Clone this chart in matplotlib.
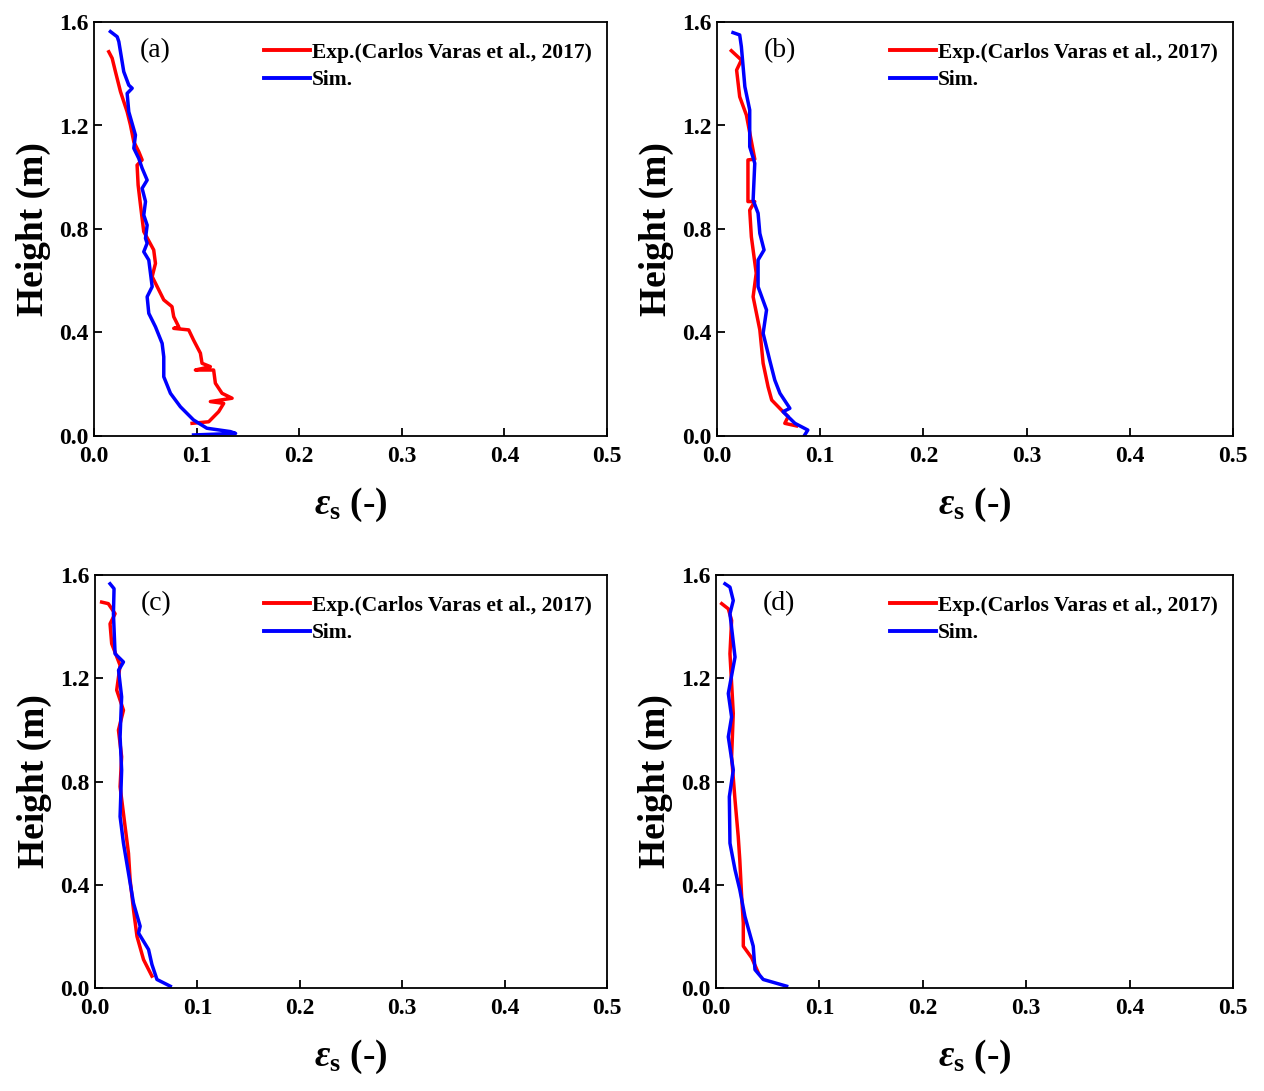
import matplotlib
matplotlib.use("Agg")
import matplotlib.pyplot as plt

plt.rcParams['font.family'] = ['Liberation Serif', 'DejaVu Serif']
plt.rcParams['font.weight'] = 'bold'
plt.rcParams['mathtext.fontset'] = 'custom'
plt.rcParams['mathtext.rm'] = 'Liberation Serif:bold'
plt.rcParams['mathtext.it'] = 'Liberation Serif:italic:bold'
plt.rcParams['mathtext.bf'] = 'Liberation Serif:bold'

# ---------------- data ----------------
panel_labels = ['(a)', '(b)', '(c)', '(d)']
legend_exp = 'Exp.(Carlos Varas et al., 2017)'
legend_sim = 'Sim.'
x_ticks = [0.0, 0.1, 0.2, 0.3, 0.4, 0.5]
y_ticks = [0.0, 0.4, 0.8, 1.2, 1.6]

# panel (a)
a_sim_h = [1.563, 1.543, 1.524, 1.408, 1.356, 1.344, 1.324, 1.253, 1.163, 1.112, 1.073, 1.035, 0.989,
           0.957, 0.906, 0.854, 0.815, 0.764, 0.745, 0.712, 0.68, 0.577, 0.538, 0.474, 0.422, 0.358,
           0.306, 0.229, 0.165, 0.113, 0.062, 0.03, 0.017, 0.01, 0.004]
a_sim_e = [0.016, 0.0226, 0.0242, 0.029, 0.0339, 0.0372, 0.0323, 0.0339, 0.0404, 0.0388, 0.0436, 0.0469,
           0.0518, 0.0469, 0.0502, 0.0485, 0.0518, 0.0502, 0.0518, 0.0485, 0.0534, 0.0567, 0.0518, 0.0534,
           0.0599, 0.0664, 0.068, 0.068, 0.0745, 0.0842, 0.097, 0.11, 0.133, 0.138, 0.097]
a_exp_h = [1.485, 1.46, 1.408, 1.331, 1.253, 1.202, 1.137, 1.099, 1.067, 1.047, 0.97, 0.893, 0.841,
           0.79, 0.719, 0.667, 0.616, 0.526, 0.5, 0.461, 0.422, 0.416, 0.41, 0.371, 0.32, 0.281, 0.268,
           0.255, 0.255, 0.204, 0.165, 0.146, 0.133, 0.126, 0.094, 0.055, 0.049]
a_exp_e = [0.0144, 0.0177, 0.0209, 0.0258, 0.0323, 0.0355, 0.0388, 0.0436, 0.0469, 0.042, 0.043, 0.0453,
           0.0469, 0.0485, 0.0582, 0.0599, 0.0567, 0.068, 0.076, 0.0777, 0.0826, 0.0777, 0.0923, 0.097,
           0.1037, 0.1053, 0.1134, 0.0988, 0.1166, 0.1183, 0.1248, 0.1346, 0.1134, 0.1264, 0.1215, 0.1118,
           0.0956]

# panel (b)
b_sim_h = [1.559, 1.55, 1.505, 1.35, 1.26, 1.118, 1.054, 0.912, 0.861, 0.783, 0.719, 0.68, 0.577,
           0.487, 0.397, 0.294, 0.216, 0.165, 0.107, 0.094, 0.049, 0.023, 0.004]
b_sim_e = [0.0155, 0.022, 0.0236, 0.027, 0.0317, 0.0317, 0.0366, 0.035, 0.0398, 0.0415, 0.0456, 0.0398,
           0.0398, 0.048, 0.0447, 0.051, 0.056, 0.061, 0.0706, 0.064, 0.0755, 0.088, 0.085]
b_exp_h = [1.489, 1.453, 1.414, 1.311, 1.24, 1.07, 1.067, 1.02, 0.906, 0.906, 0.873, 0.77, 0.629,
           0.538, 0.41, 0.281, 0.19, 0.139, 0.1, 0.075, 0.049, 0.039]
b_exp_e = [0.0139, 0.0236, 0.019, 0.022, 0.0285, 0.0366, 0.030, 0.030, 0.030, 0.0366, 0.0317, 0.0333,
           0.038, 0.035, 0.0415, 0.0447, 0.0495, 0.053, 0.0625, 0.069, 0.0657, 0.077]

# panel (c)
c_sim_h = [1.566, 1.547, 1.45, 1.295, 1.263, 1.231, 1.128, 0.973, 0.844, 0.664, 0.561, 0.445, 0.329,
           0.239, 0.213, 0.149, 0.091, 0.033, 0.007]
c_sim_e = [0.0147, 0.0186, 0.018, 0.0196, 0.0278, 0.023, 0.026, 0.0245, 0.026, 0.0245, 0.0278, 0.0327,
           0.0376, 0.0441, 0.0425, 0.0523, 0.0556, 0.0605, 0.0735]
c_exp_h = [1.495, 1.489, 1.45, 1.411, 1.334, 1.25, 1.154, 1.076, 0.999, 0.896, 0.78, 0.625, 0.522,
           0.419, 0.303, 0.2, 0.11, 0.046]
c_exp_e = [0.0065, 0.013, 0.0196, 0.0147, 0.0163, 0.0245, 0.0212, 0.0278, 0.0229, 0.026, 0.0245, 0.0294,
           0.0327, 0.0343, 0.0376, 0.041, 0.0474, 0.0556]

# panel (d)
d_sim_h = [1.566, 1.553, 1.501, 1.45, 1.282, 1.141, 1.05, 0.973, 0.844, 0.741, 0.561, 0.458, 0.381,
           0.277, 0.162, 0.071, 0.033, 0.007]
d_sim_e = [0.0087, 0.0135, 0.0167, 0.0135, 0.0184, 0.0119, 0.0151, 0.0119, 0.0167, 0.0129, 0.0135,
           0.0184, 0.023, 0.028, 0.036, 0.0377, 0.0457, 0.0683]
d_exp_h = [1.489, 1.469, 1.424, 1.295, 1.064, 0.896, 0.728, 0.587, 0.497, 0.355, 0.252, 0.162, 0.117,
           0.059]
d_exp_e = [0.0055, 0.0119, 0.0151, 0.0135, 0.0167, 0.0151, 0.0184, 0.0215, 0.023, 0.0248, 0.0264,
           0.0264, 0.0345, 0.0409]

panels = [
    (a_exp_e, a_exp_h, a_sim_e, a_sim_h),
    (b_exp_e, b_exp_h, b_sim_e, b_sim_h),
    (c_exp_e, c_exp_h, c_sim_e, c_sim_h),
    (d_exp_e, d_exp_h, d_sim_e, d_sim_h),
]

# ---------------- layout ----------------
W, H = 1264, 1091
fig = plt.figure(figsize=(W / 100, H / 100), dpi=100)

boxes = [  # left, bottom, right, top in pixels
    (94, 436, 607, 22),
    (717, 436, 1233, 22),
    (95, 988, 607, 575),
    (716, 988, 1233, 575),
]

for i, ((ee, eh, se, sh), (l, b, r, t)) in enumerate(zip(panels, boxes)):
    ax = fig.add_axes([l / W, 1 - b / H, (r - l) / W, (b - t) / H])
    ax.plot(ee, eh, color='#FF0000', lw=2.5, label=legend_exp)
    ax.plot(se, sh, color='#0000FF', lw=2.5, label=legend_sim)
    ax.set_xlim(0, 0.5)
    ax.set_ylim(0, 1.6)
    ax.set_xticks(x_ticks)
    ax.set_yticks(y_ticks)
    ax.set_xticklabels([f'{v:.1f}' for v in x_ticks])
    ax.set_yticklabels([f'{v:.1f}' for v in y_ticks])
    ax.tick_params(direction='in', length=6, width=1.3, labelsize=17)
    ax.tick_params(axis='x', pad=7)
    ax.tick_params(axis='y', pad=4)
    for s in ax.spines.values():
        s.set_linewidth(1.3)
    ax.set_xlabel(r'$\varepsilon_{\mathrm{s}}$ (-)', fontsize=27, fontweight='bold', labelpad=14)
    ax.set_ylabel('Height (m)', fontsize=27, fontweight='bold', labelpad=6)
    ax.text(0.09, 0.93, panel_labels[i], transform=ax.transAxes, fontsize=20,
            fontweight='normal', ha='left', va='center')
    leg = ax.legend(loc='upper right', frameon=False, fontsize=15.5, handlelength=2.1,
                    handletextpad=0.1, labelspacing=0.36, borderaxespad=0.55,
                    bbox_to_anchor=(1.01, 1.0))
    for line in leg.get_lines():
        line.set_linewidth(2.8)

fig.savefig('out.png', dpi=100)
